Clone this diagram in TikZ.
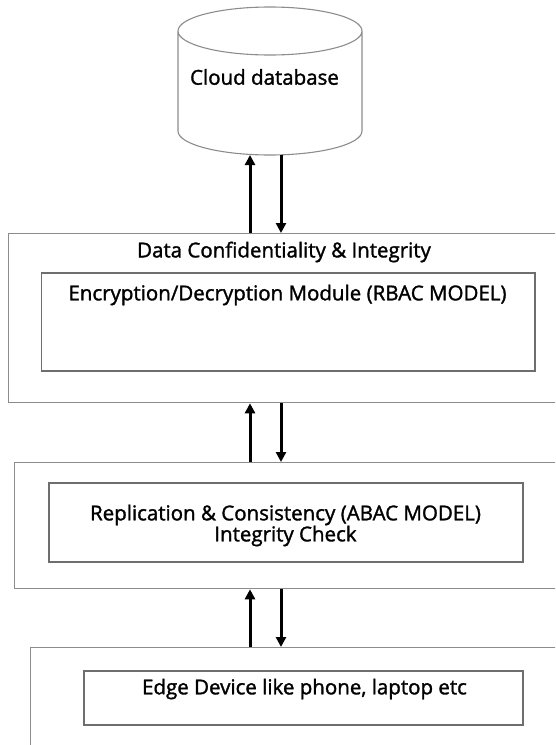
\documentclass[tikz,border=0pt]{standalone}
\usepackage{fontspec}
\setmainfont{Open Sans}
\newfontfamily\lblfont[FakeBold=1.5]{Open Sans}
\usetikzlibrary{arrows.meta}
\definecolor{outergray}{HTML}{8C8C8C}
\definecolor{innergray}{HTML}{6E6E6E}
\begin{document}
\begin{tikzpicture}[x=1pt,y=-1pt,
  outerbox/.style={draw=outergray, line width=1.3pt, anchor=north west, inner sep=0pt},
  innerbox/.style={draw=innergray, line width=1.5pt, anchor=north west, inner sep=0pt},
  lbl/.style={font=\lblfont\fontsize{20.5}{21}\selectfont, align=center, inner sep=0pt},
  arr/.style={line width=3pt, -{Triangle[length=10pt,width=10pt]}}
]
\clip (0,0) rectangle (555,745);
\useasboundingbox (0,0) rectangle (555,745);
% cylinder
\draw[draw=outergray, line width=1.1pt] (178,31) -- (178,131)
  arc[start angle=180, end angle=360, x radius=92pt, y radius=24pt]
  -- (362,31) arc[start angle=0, end angle=360, x radius=92pt, y radius=24pt];
\node[lbl] (db) at (264.5,77) {Cloud database};
\coordinate (dbbot) at (270,155);
\coordinate (ux) at (250,0);
\coordinate (dx) at (281,0);
% layer 1
\node[outerbox, minimum width=600pt, minimum height=169pt] (b1) at (8,233) {};
\node[lbl] (t1) at (284,252) {Data Confidentiality \& Integrity};
\node[innerbox, minimum width=493.5pt, minimum height=98pt] (i1) at (40.5,272) {};
\node[lbl] (t1b) at (287.5,295) {Encryption/Decryption Module (RBAC MODEL)};
% layer 2
\node[outerbox, minimum width=600pt, minimum height=126pt] (b2) at (14,462) {};
\node[innerbox, minimum width=474pt, minimum height=79pt] (i2) at (48,482) {};
\node[lbl] (t2) at (285.5,525.5) {Replication \& Consistency (ABAC MODEL)\\Integrity Check};
% layer 3
\node[outerbox, minimum width=600pt, minimum height=160pt] (b3) at (30,647) {};
\node[innerbox, minimum width=439pt, minimum height=54pt] (i3) at (83,670) {};
\node[lbl] (t3) at (304.5,689) {Edge Device like phone, laptop etc};
% arrows
\draw[arr] (b1.north -| ux) -- (dbbot -| ux);
\draw[arr] (dbbot -| dx) -- (b1.north -| dx);
\draw[arr] (b2.north -| ux) -- (b1.south -| ux);
\draw[arr] (b1.south -| dx) -- (b2.north -| dx);
\draw[arr] (b3.north -| ux) -- (b2.south -| ux);
\draw[arr] (b2.south -| dx) -- (b3.north -| dx);
\end{tikzpicture}
\end{document}
